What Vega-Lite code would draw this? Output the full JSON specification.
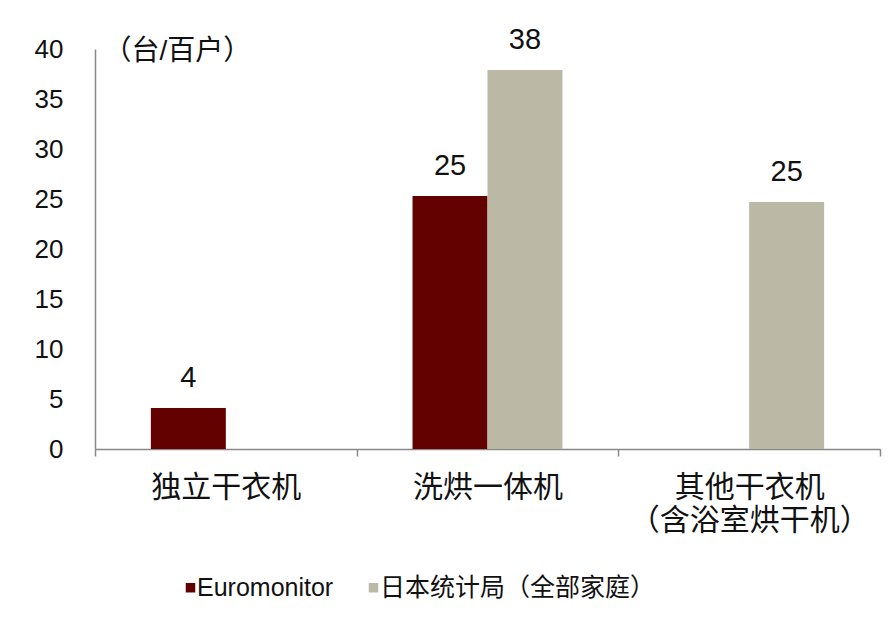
{
  "$schema": "https://vega.github.io/schema/vega-lite/v6.json",
  "autosize": "none",
  "width": 785,
  "height": 400,
  "padding": {"left": 95, "top": 49, "right": 15, "bottom": 170},
  "background": "white",
  "config": {
    "view": {"stroke": null},
    "font": "Liberation Sans, Noto Sans CJK SC, sans-serif"
  },
  "data": {
    "values": [
      {"category": "独立干衣机", "source": "Euromonitor", "value": 4.1, "label": "4"},
      {"category": "洗烘一体机", "source": "Euromonitor", "value": 25.3, "label": "25"},
      {"category": "洗烘一体机", "source": "日本统计局（全部家庭）", "value": 37.9, "label": "38"},
      {"category": "其他干衣机|（含浴室烘干机）", "source": "日本统计局（全部家庭）", "value": 24.7, "label": "25"}
    ]
  },
  "encoding": {
    "x": {
      "field": "category",
      "type": "nominal",
      "sort": null,
      "scale": {"paddingInner": 0, "paddingOuter": 0},
      "axis": {
        "title": null,
        "labelAngle": 0,
        "labelExpr": "datum.value ? split(datum.value, '|') : ''",
        "labelFont": "Liberation Sans, Noto Sans CJK SC",
        "labelFontSize": 30,
        "labelColor": "#111",
        "labelPadding": 16,
        "labelLineHeight": 33,
        "labelBaseline": "top",
        "labelLimit": 0,
        "domainColor": "#888",
        "domainWidth": 1.5,
        "tickColor": "#888",
        "tickWidth": 1.5,
        "tickSize": 7,
        "tickBand": "extent"
      }
    },
    "xOffset": {
      "field": "source",
      "type": "nominal",
      "sort": ["Euromonitor", "日本统计局（全部家庭）"],
      "scale": {"domain": ["Euromonitor", "日本统计局（全部家庭）"], "paddingInner": 0, "paddingOuter": 0.745}
    },
    "y": {
      "field": "value",
      "type": "quantitative",
      "scale": {"domain": [0, 40]},
      "axis": {
        "values": [0, 5, 10, 15, 20, 25, 30, 35, 40],
        "grid": false,
        "ticks": false,
        "labelFontSize": 26,
        "labelColor": "#111",
        "labelPadding": 32,
        "domainColor": "#888",
        "domainWidth": 1.5,
        "title": "（台/百户）",
        "titleFont": "Liberation Sans, Noto Sans CJK SC",
        "titleFontSize": 28,
        "titleFontWeight": "normal",
        "titleColor": "#111",
        "titleAngle": 0,
        "titleAlign": "left",
        "titleBaseline": "middle",
        "titleX": 8,
        "titleY": 2
      }
    }
  },
  "layer": [
    {
      "mark": {"type": "bar"},
      "encoding": {
        "color": {
          "field": "source",
          "type": "nominal",
          "scale": {"domain": ["Euromonitor", "日本统计局（全部家庭）"], "range": ["#630000", "#BBB8A6"]},
          "legend": {
            "title": null,
            "orient": "none",
            "direction": "horizontal",
            "legendX": 83,
            "legendY": 526,
            "symbolType": "square",
            "symbolSize": 90,
            "symbolStrokeWidth": 0,
            "labelFont": "Liberation Sans, Noto Sans CJK SC",
            "labelFontSize": 25,
            "labelColor": "#111",
            "labelOffset": -6,
            "labelLimit": 0,
            "columnPadding": 27
          }
        }
      }
    },
    {
      "mark": {"type": "text", "baseline": "bottom", "dy": -15, "fontSize": 29, "color": "#111"},
      "encoding": {"text": {"field": "label"}}
    }
  ]
}
